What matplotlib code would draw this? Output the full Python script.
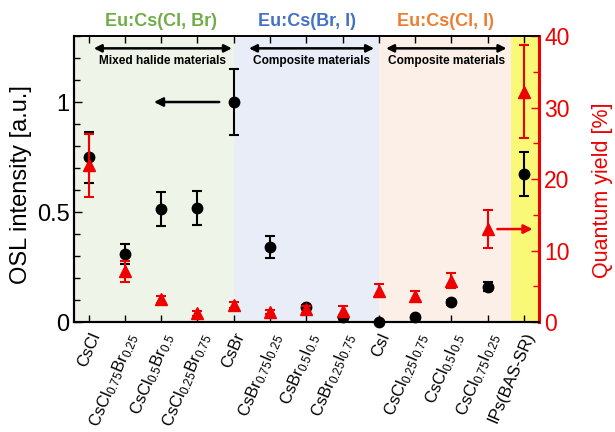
import matplotlib
matplotlib.use("Agg")
import matplotlib.pyplot as plt
from matplotlib.ticker import MultipleLocator

plt.rcParams['font.family'] = ['Liberation Sans', 'DejaVu Sans']
plt.rcParams['mathtext.default'] = 'regular'

labels = ['CsCl', r'CsCl$_{0.75}$Br$_{0.25}$', r'CsCl$_{0.5}$Br$_{0.5}$',
          r'CsCl$_{0.25}$Br$_{0.75}$', 'CsBr', r'CsBr$_{0.75}$I$_{0.25}$',
          r'CsBr$_{0.5}$I$_{0.5}$', r'CsBr$_{0.25}$I$_{0.75}$', 'CsI',
          r'CsCl$_{0.25}$I$_{0.75}$', r'CsCl$_{0.5}$I$_{0.5}$',
          r'CsCl$_{0.75}$I$_{0.25}$', 'IPs(BAS-SR)']
osl = [0.748, 0.308, 0.514, 0.519, 1.0, 0.341, 0.069, 0.024, 0.0, 0.021, 0.089, 0.16, 0.673]
osl_err = [0.115, 0.045, 0.077, 0.078, 0.15, 0.049, 0.008, 0.005, 0.0, 0.005, 0.01, 0.02, 0.1]
qy = [21.9, 7.1, 3.2, 1.2, 2.4, 1.4, 1.8, 1.6, 4.4, 3.7, 5.8, 13.0, 32.2]
qy_err = [4.4, 1.5, 0.5, 0.3, 0.4, 0.3, 0.5, 0.7, 0.9, 0.7, 1.1, 2.6, 6.5]

x = list(range(len(labels)))
RED = '#ee0000'

fig = plt.figure(figsize=(6.15, 4.32), dpi=100)
ax = fig.add_axes([0.120, 0.2546, 0.756, 0.662])
ax2 = ax.twinx()

ax.set_xlim(-0.41, 12.41)
ax.set_ylim(0, 1.3)
ax2.set_ylim(0, 40)

# background regions
ax.axvspan(-0.41, 4.0, color='#eef4e7', zorder=0, lw=0)
ax.axvspan(4.0, 8.0, color='#e9edf7', zorder=0, lw=0)
ax.axvspan(8.0, 11.65, color='#fcefe7', zorder=0, lw=0)
ax.axvspan(11.65, 12.41, color='#f9f877', zorder=0, lw=0)

ax.set_zorder(ax2.get_zorder() - 1)
ax.patch.set_visible(False)
fig.patch.set_facecolor('white')

# Data (OSL scaled onto the right axis so the red series can sit on top)
ax2.errorbar(x, [o * 40 / 1.3 for o in osl], yerr=[e * 40 / 1.3 for e in osl_err],
             fmt='o', color='black', ms=7.5, capsize=3.5, elinewidth=1.5,
             capthick=1.5, zorder=3, clip_on=False)
ax2.errorbar(x, qy, yerr=qy_err, fmt='^', color=RED, ms=8, capsize=3.5,
             elinewidth=1.5, capthick=1.5, zorder=4, clip_on=False)

# ticks
ax.set_xticks(x)
ax.set_xticklabels(labels, rotation=67, ha='right', va='top',
                   rotation_mode='anchor', fontsize=12)
ax.tick_params(axis='x', direction='in', top=True, length=5, width=1, pad=6)
ax.yaxis.set_minor_locator(MultipleLocator(0.1))
ax.set_yticks([0, 0.5, 1])
ax.set_yticklabels(['0', '0.5', '1'])
ax.tick_params(axis='y', which='major', direction='in', length=6, width=1,
               labelsize=17, pad=3)
ax.tick_params(axis='y', which='minor', direction='in', length=4, width=1)
ax.set_ylabel('OSL intensity [a.u.]', fontsize=17)
ax.yaxis.set_label_coords(-0.09, 0.48)

ax2.yaxis.set_major_locator(MultipleLocator(10))
ax2.yaxis.set_minor_locator(MultipleLocator(5))
ax2.tick_params(axis='y', which='major', direction='in', length=6, width=1,
                labelsize=16.5, colors=RED, pad=4)
ax2.tick_params(axis='y', which='minor', direction='in', length=4, width=1,
                colors=RED)
ax2.set_ylabel('Quantum yield [%]', fontsize=15.5, color=RED, rotation=90)
ax2.yaxis.set_label_coords(1.114, 0.46)

for a in (ax, ax2):
    a.spines['left'].set_linewidth(1.5)
    a.spines['bottom'].set_linewidth(1.5)
    a.spines['top'].set_linewidth(1.2)
ax2.spines['right'].set_color(RED)
ax2.spines['right'].set_linewidth(2.2)
ax.spines['right'].set_visible(False)

# top group labels
for cx, txt, col in [(161, 'Eu:Cs(Cl, Br)', '#70ad47'),
                     (307, 'Eu:Cs(Br, I)', '#4472c4'),
                     (445, 'Eu:Cs(Cl, I)', '#ed7d31')]:
    fig.text(cx / 615, 1 - 21 / 432, txt, color=col, fontsize=13,
             fontweight='bold', ha='center', va='center')

# double arrows and captions
for x0, x1, txt in [(0.14, 3.95, 'Mixed halide materials'),
                    (4.42, 7.87, 'Composite materials'),
                    (8.2, 11.52, 'Composite materials')]:
    ax.annotate('', xy=(x1, 1.244), xytext=(x0, 1.244),
                arrowprops=dict(arrowstyle='<|-|>', color='black', lw=1.8,
                                mutation_scale=11, shrinkA=0, shrinkB=0))
    ax.text((x0 + x1) / 2, 1.186, txt, fontsize=8.6, fontweight='bold',
            ha='center', va='center')

# single arrows
ax.annotate('', xy=(1.8, 1.0), xytext=(3.6, 1.0),
            arrowprops=dict(arrowstyle='-|>', color='black', lw=1.8,
                            mutation_scale=13, shrinkA=0, shrinkB=0))
ax2.annotate('', xy=(12.24, 13.0), xytext=(11.27, 13.0),
             arrowprops=dict(arrowstyle='-|>', color=RED, lw=1.8,
                             mutation_scale=13, shrinkA=0, shrinkB=0))

fig.savefig('out.png', dpi=100)
